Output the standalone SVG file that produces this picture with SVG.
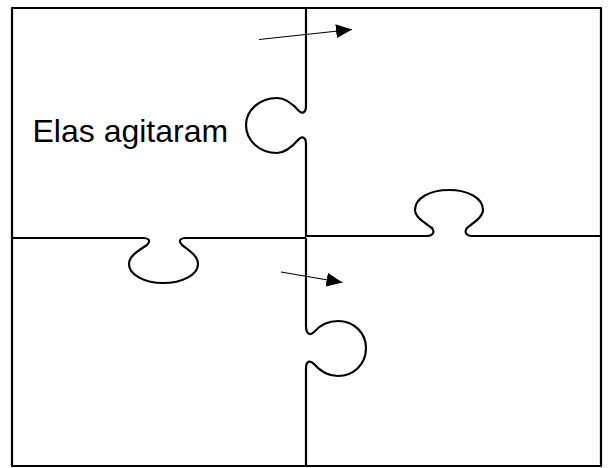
<svg xmlns="http://www.w3.org/2000/svg" width="608" height="468" viewBox="0 0 608 468">
<style>
.edge{fill:none;stroke:#000;stroke-width:2.2;stroke-linejoin:round;stroke-linecap:butt}
.arrow{fill:none;stroke:#000;stroke-width:1.2}
.lbl{font-family:"Liberation Sans",Arial,sans-serif;font-size:32px;fill:#000}
</style>
<defs>
<marker id="ah" markerWidth="16" markerHeight="14" refX="16" refY="7" orient="auto" markerUnits="userSpaceOnUse">
<path d="M0,0 L16,7 L0,14 Z" fill="#000"/>
</marker>
</defs>
<rect width="608" height="468" fill="#fff"/>
<g id="pieces">
<g id="outer"><rect class="edge" x="12" y="8" width="589" height="458"/></g>
<g id="top-divider"><path class="edge" d="M306,8 V106 C306,113 302,114 299,111 C292,103 285,98 277,98 C260,98 246,110 246,125 C246,141 260,153 277,153 C285,153 292,147 299,139 C302,136 306,137 306,144 V237"/></g>
<g id="left-divider"><path class="edge" d="M12,238 H143 C149,238 151,241 147,245 C138,251 129,256 129,264 C129,275 145,283 163,283 C182,283 198,275 198,264 C198,256 190,251 182,245 C178,241 180,238 186,238 H306"/></g>
<g id="right-divider"><path class="edge" d="M306,236 H427 C433,236 435,232 432,228 C424,222 415,217 415,210 C415,198 430,190 449,190 C468,190 483,198 483,210 C483,217 474,222 467,228 C464,232 466,236 472,236 H601"/></g>
<g id="bottom-divider"><path class="edge" d="M306,238 V326 C306,334 310,336 314,332 C320,325 328,321 338,321 C354,321 366,333 366,348 C366,364 354,376 338,376 C328,376 320,371 314,364 C310,360 306,361 306,368 V466"/></g>
</g>
<g id="connectors">
<line class="arrow" x1="259" y1="39.5" x2="352" y2="29.5" marker-end="url(#ah)"/>
<line class="arrow" x1="281" y1="272" x2="342.5" y2="282.5" marker-end="url(#ah)"/>
</g>
<g id="label"><text class="lbl" x="32.5" y="142">Elas agitaram</text></g>
</svg>
